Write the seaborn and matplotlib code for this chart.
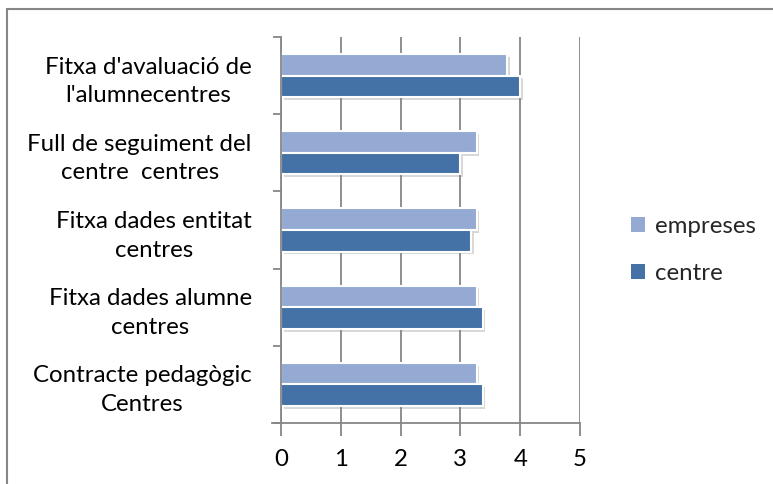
import matplotlib
matplotlib.use("Agg")
import matplotlib.pyplot as plt
import matplotlib.patheffects as pe
from matplotlib.patches import Rectangle
from matplotlib.ticker import FixedLocator
import seaborn as sns
import pandas as pd

categories = [
    "Fitxa d'avaluació de\nl'alumnecentres",
    "Full de seguiment del\ncentre  centres",
    "Fitxa dades entitat\ncentres",
    "Fitxa dades alumne\ncentres",
    "Contracte pedagògic\nCentres",
]
empreses = [3.78, 3.27, 3.27, 3.27, 3.27]
centre = [4.0, 3.0, 3.18, 3.37, 3.37]
series_names = ["empreses", "centre"]
xticks = [0, 1, 2, 3, 4, 5]

df = pd.DataFrame({
    "cat": categories * 2,
    "serie": ["empreses"] * len(categories) + ["centre"] * len(categories),
    "val": empreses + centre,
})

sns.set_theme(style="white")
plt.rcParams['font.family'] = ['Lato', 'DejaVu Sans']

FS = 17.3

fig = plt.figure(figsize=(7.73, 4.84), dpi=100)
ax = fig.add_axes([281/773, 1 - 423/484, (580-281)/773, (423-37)/484])

palette = {"empreses": "#94AAD2", "centre": "#4471A6"}
sns.barplot(data=df, y="cat", x="val", hue="serie", hue_order=series_names,
            order=categories, palette=palette, width=0.56, ax=ax,
            edgecolor="white", linewidth=1.5, saturation=1)

for p in ax.patches:
    p.set_path_effects([pe.SimplePatchShadow(offset=(2, -2), shadow_rgbFace=(0.5, 0.5, 0.5), alpha=0.3), pe.Normal()])

gray = "#868686"
ax.set_xlim(0, 5)
ax.set_ylim(len(categories) - 0.5, -0.5)
ax.set_xticks(xticks)
ax.set_xticklabels([str(t) for t in xticks])
ax.grid(axis="x", color=gray, linewidth=1.3)
ax.set_axisbelow(True)
for s in ["top", "right"]:
    ax.spines[s].set_visible(False)
for s in ["left", "bottom"]:
    ax.spines[s].set_color(gray)
    ax.spines[s].set_linewidth(1.3)
ax.spines["bottom"].set_bounds(-0.15, 5)

ax.yaxis.set_minor_locator(FixedLocator([i - 0.5 for i in range(len(categories) + 1)]))
ax.tick_params(axis="y", which="major", length=0, pad=21, labelsize=FS, labelcolor="black")
ax.tick_params(axis="y", which="minor", length=6, width=1.3, color=gray, left=True)
ax.tick_params(axis="x", which="major", length=9, width=1.3, color=gray, pad=10,
               labelsize=FS, labelcolor="black", bottom=True)
for lbl in ax.get_yticklabels():
    lbl.set_multialignment("center")
    lbl.set_linespacing(1.45)

ax.set_xlabel("")
ax.set_ylabel("")

leg = ax.legend(title=None, frameon=False, loc="center left",
                bbox_to_anchor=(631/773, 1 - 250/484), bbox_transform=fig.transFigure,
                fontsize=FS, handlelength=0.6, handleheight=0.6,
                handletextpad=0.4, labelspacing=1.1, borderpad=0, borderaxespad=0)
for h in leg.legend_handles:
    h.set_path_effects([])
    h.set_edgecolor("none")

fig.patches.append(Rectangle((7/773, -0.1), 1.2, 1 - 9/484 + 0.1, transform=fig.transFigure,
                             fill=False, edgecolor=gray, linewidth=1.5))

fig.savefig("out.png", dpi=100)
